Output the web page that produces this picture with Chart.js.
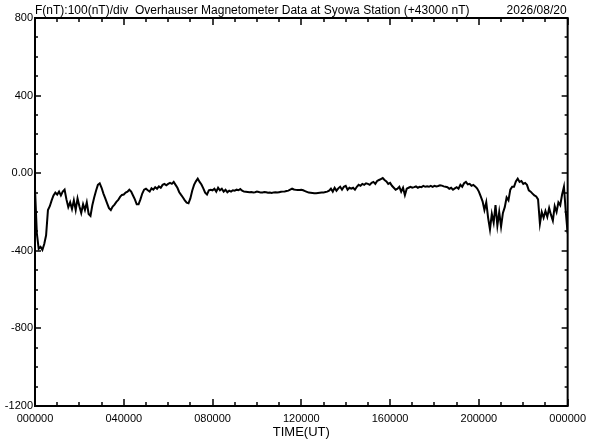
<!DOCTYPE html>
<html>
<head>
<meta charset="utf-8">
<script src="https://cdn.jsdelivr.net/npm/chart.js@4.4.1/dist/chart.umd.min.js"></script>
<style>
  html, body { margin: 0; padding: 0; background: #fff; }
  #wrap { width: 592px; height: 440px; }
</style>
</head>
<body>
<div id="wrap"><canvas id="magChart" width="592" height="440"></canvas></div>
<script>
// Total field minus 43000 nT, one value every 5 minutes (UT)
const STEP_MIN = 5;
const fieldValues = [
  -80, -310, -390, -380, -395, -365, -320, -190, -170, -140, -115, -100,   // 00h
  -110, -95, -115, -95, -85, -135, -175, -150, -185, -140, -190, -130,     // 01h
  -170, -205, -160, -190, -150, -210, -220, -165, -125, -90, -60, -52,     // 02h
  -75, -105, -130, -155, -180, -190, -172, -162, -148, -138, -122, -112,   // 03h
  -110, -100, -95, -85, -95, -115, -135, -160, -160, -135, -105, -85,      // 04h
  -80, -88, -95, -78, -85, -72, -80, -68, -75, -60, -55, -62,              // 05h
  -55, -50, -55, -45, -60, -75, -98, -112, -125, -140, -152, -155,         // 06h
  -130, -90, -60, -42, -28, -45, -58, -78, -100, -110, -88, -85,           // 07h
  -88, -80, -95, -75, -88, -80, -95, -85, -98, -90, -95, -88,              // 08h
  -90, -85, -88, -82, -90, -95, -96, -97, -98, -97, -99, -98,              // 09h
  -95, -97, -100, -99, -97, -98, -101, -100, -102, -99, -98, -100,         // 10h
  -98, -96, -95, -94, -92, -90, -85, -80, -84, -86, -87, -86,              // 11h
  -85, -88, -92, -96, -100, -101, -102, -103, -103, -102, -101, -100,      // 12h
  -100, -97, -95, -90, -80, -95, -75, -90, -78, -70, -85, -70,             // 13h
  -65, -85, -75, -80, -75, -85, -70, -60, -65, -55, -60, -52,              // 14h
  -55, -60, -50, -45, -55, -40, -35, -30, -25, -35, -42, -55,              // 15h
  -50, -65, -75, -85, -80, -70, -95, -75, -113, -80, -75, -70,             // 16h
  -75, -72, -68, -75, -70, -72, -65, -70, -68, -70, -65, -70,              // 17h
  -65, -68, -66, -62, -64, -68, -70, -72, -80, -75, -85, -78,              // 18h
  -72, -80, -60, -70, -52, -45, -58, -55, -65, -60, -68, -78,              // 19h
  -95, -120, -145, -190, -150, -230, -290, -210, -255, -165, -270, -200,   // 20h
  -275, -205, -175, -125, -140, -85, -70, -70, -42, -28, -45, -40,         // 21h
  -55, -50, -60, -88, -95, -105, -115, -120, -135, -260, -200, -230,       // 22h
  -195, -225, -180, -215, -245, -170, -200, -150, -165, -110, -70, -200,   // 23h
  -310
];

const xTickMinutes = [0, 240, 480, 720, 960, 1200, 1440];
const xTickLabels = ['000000', '040000', '080000', '120000', '160000', '200000', '000000'];
const yTickValues = [800, 400, 0, -400, -800, -1200];
const yTickLabels = ['800', '400', '0.00', '-400', '-800', '-1200'];

const titleLeft = 'F(nT):100(nT)/div  Overhauser Magnetometer Data at Syowa Station (+43000 nT)';
const titleRight = '2026/08/20';
const FONT = '"Liberation Sans", Arial, sans-serif';

const points = fieldValues.map((v, i) => ({ x: i * STEP_MIN, y: v }));

// box around the plot with small inward ticks, plus the header texts
const framePlugin = {
  id: 'frame',
  afterDatasetsDraw(chart) {
    const { ctx, chartArea: a, scales } = chart;
    ctx.save();
    ctx.strokeStyle = '#000';
    ctx.lineWidth = 2;
    ctx.strokeRect(a.left, a.top, a.right - a.left, a.bottom - a.top);

    ctx.lineWidth = 1.5;
    ctx.beginPath();
    for (let m = 0; m <= 1440; m += 60) {
      const x = Math.round(scales.x.getPixelForValue(m));
      const len = m % 240 === 0 ? 7 : 4;
      ctx.moveTo(x, a.bottom); ctx.lineTo(x, a.bottom - len);
      ctx.moveTo(x, a.top); ctx.lineTo(x, a.top + len);
    }
    for (let v = -1200; v <= 800; v += 100) {
      const y = Math.round(scales.y.getPixelForValue(v));
      const len = v % 400 === 0 ? 6 : 3;
      ctx.moveTo(a.left, y); ctx.lineTo(a.left + len, y);
      ctx.moveTo(a.right, y); ctx.lineTo(a.right - len, y);
    }
    ctx.stroke();

    ctx.fillStyle = '#000';
    ctx.font = '12px ' + FONT;
    ctx.textBaseline = 'alphabetic';
    ctx.textAlign = 'left';
    ctx.fillText(titleLeft, a.left, 14);
    ctx.textAlign = 'right';
    ctx.fillText(titleRight, a.right - 1, 14);
    ctx.restore();
  }
};

new Chart(document.getElementById('magChart'), {
  type: 'line',
  data: {
    datasets: [{
      label: 'F',
      data: points,
      borderColor: '#000',
      borderWidth: 2,
      pointRadius: 0,
      tension: 0,
      fill: false
    }]
  },
  options: {
    responsive: false,
    animation: false,
    devicePixelRatio: 1,
    layout: { padding: { top: 18, right: 23, left: 0, bottom: 0 } },
    plugins: {
      legend: { display: false },
      tooltip: { enabled: false }
    },
    scales: {
      x: {
        type: 'linear',
        min: 0,
        max: 1440,
        afterBuildTicks: s => { s.ticks = xTickMinutes.map(v => ({ value: v })); },
        afterFit: s => { s.height = 34; },
        grid: { display: false, drawTicks: false },
        border: { display: false },
        ticks: {
          autoSkip: false,
          maxRotation: 0,
          padding: 6,
          color: '#000',
          font: { family: FONT, size: 11 },
          callback: v => xTickLabels[xTickMinutes.indexOf(v)]
        },
        title: {
          display: true,
          text: 'TIME(UT)',
          color: '#000',
          padding: 0,
          font: { family: FONT, size: 13 }
        }
      },
      y: {
        min: -1200,
        max: 800,
        afterBuildTicks: s => { s.ticks = yTickValues.map(v => ({ value: v })); },
        afterFit: s => { s.width = 35; },
        grid: { display: false, drawTicks: false },
        border: { display: false },
        ticks: {
          padding: 2,
          color: '#000',
          font: { family: FONT, size: 11 },
          callback: v => yTickLabels[yTickValues.indexOf(v)]
        }
      }
    }
  },
  plugins: [framePlugin]
});
</script>
</body>
</html>
